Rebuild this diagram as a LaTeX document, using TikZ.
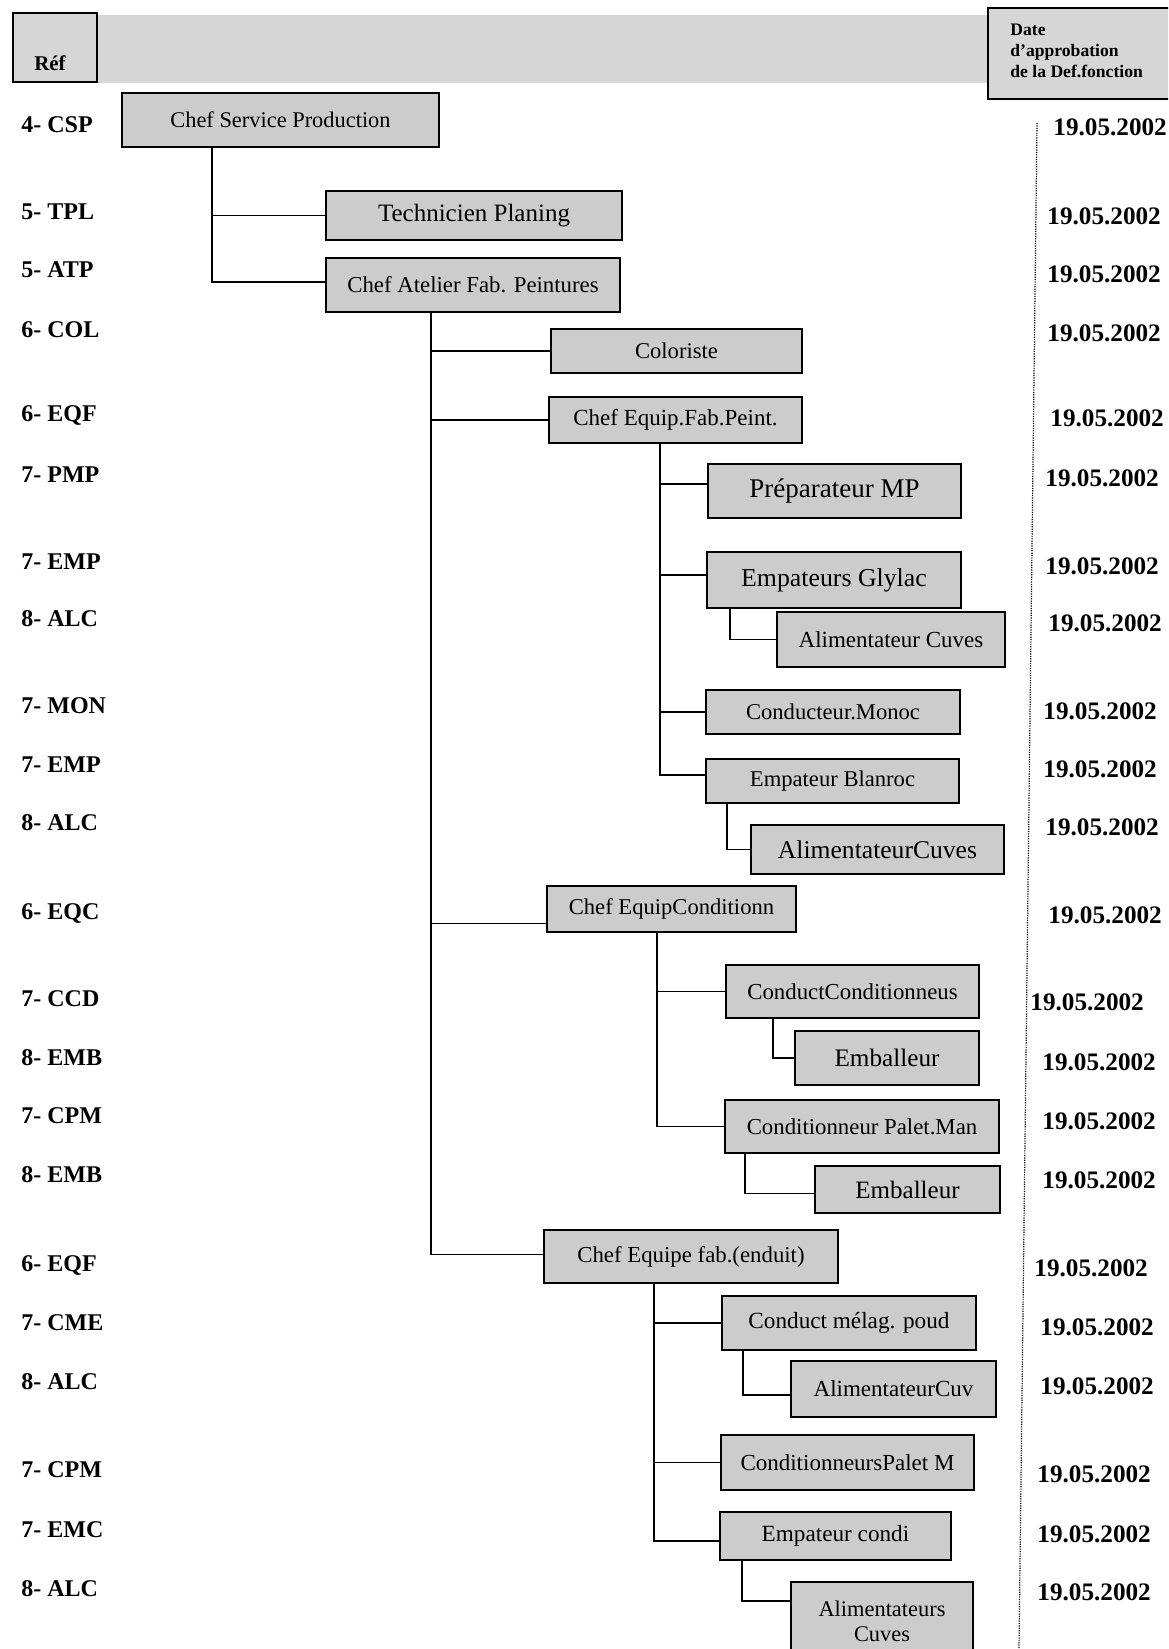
\documentclass[tikz,border=0pt]{standalone}
\usepackage{fontspec}
\setmainfont{Liberation Serif}
\definecolor{boxgray}{gray}{0.80}
\definecolor{hdrgray}{gray}{0.84}
\newcommand\orgbox[7]{\node[obx, minimum width={(#4-#2)*0.5pt}, minimum height={(#5-#3)*0.5pt}, font=\fontsize{#6pt}{#6pt}\selectfont] (#1) at ({(#2+#4)/2},{(#3+#5)/2}) {#7};}
\begin{document}
\begin{tikzpicture}[x=0.5pt,y=-0.5pt,
  obx/.style={draw=black, fill=boxgray, line width=0.9pt, inner sep=0pt, align=center},
  conn/.style={draw=black, line width=0.65pt},
  lbl/.style={anchor=west, font=\fontsize{12pt}{14pt}\selectfont\bfseries, inner sep=0pt},
  dte/.style={anchor=west, font=\fontsize{12.6pt}{15pt}\selectfont\bfseries, inner sep=0pt}]
\useasboundingbox (0,0) rectangle (1168,1649);
\clip (0,0) rectangle (1168,1649);
\fill[white] (0,0) rectangle (1168,1649);

% header
\fill[hdrgray] (13,15) rectangle (1168,83);
\node[obx, fill=hdrgray, minimum width=42pt, minimum height=34.5pt] (ref) at (55,47.5) {};
\node[font=\fontsize{10.5pt}{12pt}\selectfont\bfseries, inner sep=0pt] (reftxt) at (50,63) {Réf};
\node[obx, fill=hdrgray, minimum width=93.5pt, minimum height=45.5pt] (hdate) at (1081.5,53.5) {};
\node[anchor=west, align=left, inner sep=0pt, font=\fontsize{8.8pt}{10.5pt}\selectfont\bfseries] (hdtxt) at (1010,51) {Date\\d'approbation\\de la Def.fonction};

% dotted separator
\coordinate (dtop) at (1037,123);
\coordinate (dbot) at (1019,1649);
\draw[line width=0.6pt, dash pattern=on 0.6pt off 0.6pt] (dtop) -- (dbot);

% boxes
\orgbox{csp}{122}{93}{439}{147}{11.2}{Chef Service Production}
\orgbox{tpl}{326}{191}{622}{240}{12.5}{Technicien Planing}
\orgbox{atp}{326}{258}{620}{312}{11.4}{Chef Atelier Fab. Peintures}
\orgbox{col}{551}{329}{802}{373}{11.3}{Coloriste}
\orgbox{eqf}{549}{397}{802}{443}{11.5}{Chef Equip.Fab.Peint.}
\orgbox{pmp}{708}{464}{961}{518}{13.5}{Préparateur MP}
\orgbox{glyl}{707}{552}{961}{608}{12.9}{Empateurs Glylac}
\orgbox{alca}{777}{612}{1005}{667}{11.5}{Alimentateur Cuves}
\orgbox{mon}{706}{690}{960}{734}{11.3}{Conducteur.Monoc}
\orgbox{blan}{706}{759}{959}{803}{11.3}{Empateur Blanroc}
\orgbox{alcb}{751}{825}{1004}{874}{12.8}{AlimentateurCuves}
\orgbox{eqc}{547}{886}{796}{932}{11.3}{Chef EquipConditionn}
\orgbox{ccd}{726}{965}{979}{1018}{11.4}{ConductConditionneus}
\orgbox{emba}{795}{1031}{979}{1085}{12.6}{Emballeur}
\orgbox{cpm}{725}{1100}{999}{1153}{11.4}{Conditionneur Palet.Man}
\orgbox{embb}{815}{1166}{1000}{1213}{12.5}{Emballeur}
\orgbox{eqfb}{544}{1230}{838}{1283}{11.4}{Chef Equipe fab.(enduit)}
\orgbox{cme}{722}{1296}{976}{1350}{11.6}{Conduct mélag. poud}
\orgbox{alcc}{791}{1361}{996}{1417}{11.5}{AlimentateurCuv}
\orgbox{cpmb}{721}{1435}{974}{1490}{11.5}{ConditionneursPalet M}
\orgbox{emc}{720}{1512}{951}{1560}{11.6}{Empateur condi}
\node[obx, minimum width=91pt, minimum height=39pt, font=\fontsize{11.2pt}{12.6pt}\selectfont] (alcd) at (882,1621) {Alimentateurs\\Cuves};

% connectors
\draw[conn] ([xshift=45.5pt]csp.south west) |- (tpl.west);
\draw[conn] ([xshift=45.5pt]csp.south west) |- ([yshift=1.5pt]atp.west);
\draw[conn] ([xshift=53pt]atp.south west) |- (col.west);
\draw[conn] ([xshift=53pt]atp.south west) |- (eqf.west);
\draw[conn] ([xshift=53pt]atp.south west) |- ([yshift=-7.25pt]eqc.west);
\draw[conn] ([xshift=53pt]atp.south west) |- ([yshift=1pt]eqfb.west);
\draw[conn] ([xshift=56pt]eqf.south west) |- ([yshift=3.5pt]pmp.west);
\draw[conn] ([xshift=56pt]eqf.south west) |- ([yshift=2.5pt]glyl.west);
\draw[conn] ([xshift=56pt]eqf.south west) |- (mon.west);
\draw[conn] ([xshift=56pt]eqf.south west) |- ([yshift=3pt]blan.west);
\draw[conn] ([xshift=12pt]glyl.south west) |- (alca.west);
\draw[conn] ([xshift=11pt]blan.south west) |- (alcb.west);
\draw[conn] ([xshift=55.5pt]eqc.south west) |- (ccd.west);
\draw[conn] ([xshift=55.5pt]eqc.south west) |- (cpm.west);
\draw[conn] ([xshift=24pt]ccd.south west) |- (emba.west);
\draw[conn] ([xshift=10.5pt]cpm.south west) |- ([yshift=-2pt]embb.west);
\draw[conn] ([xshift=55.5pt]eqfb.south west) |- (cme.west);
\draw[conn] ([xshift=55.5pt]eqfb.south west) |- (cpmb.west);
\draw[conn] ([xshift=55.5pt]eqfb.south west) |- ([yshift=-2.5pt]emc.west);
\draw[conn] ([xshift=11pt]cme.south west) |- ([yshift=-3pt]alcc.west);
\draw[conn] ([xshift=11.5pt]emc.south west) |- ([yshift=-10pt]alcd.north west);

% left reference labels
\node[lbl] (r1) at (21,125) {4- CSP};
\node[lbl] (r2) at (21,212) {5- TPL};
\node[lbl] (r3) at (21,270) {5- ATP};
\node[lbl] (r4) at (21,330) {6- COL};
\node[lbl] (r5) at (21,415) {6- EQF};
\node[lbl] (r6) at (21,475) {7- PMP};
\node[lbl] (r7) at (21,562) {7- EMP};
\node[lbl] (r8) at (21,619) {8- ALC};
\node[lbl] (r9) at (21,706) {7- MON};
\node[lbl] (r10) at (21,765) {7- EMP};
\node[lbl] (r11) at (21,823) {8- ALC};
\node[lbl] (r12) at (21,913) {6- EQC};
\node[lbl] (r13) at (21,999) {7- CCD};
\node[lbl] (r14) at (21,1058) {8- EMB};
\node[lbl] (r15) at (21,1116) {7- CPM};
\node[lbl] (r16) at (21,1175) {8- EMB};
\node[lbl] (r17) at (21,1265) {6- EQF};
\node[lbl] (r18) at (21,1323) {7- CME};
\node[lbl] (r19) at (21,1382) {8- ALC};
\node[lbl] (r20) at (21,1470) {7- CPM};
\node[lbl] (r21) at (21,1530) {7- EMC};
\node[lbl] (r22) at (21,1589) {8- ALC};

% dates
\node[dte] (d1) at (1053,127) {19.05.2002};
\node[dte] (d2) at (1047,216) {19.05.2002};
\node[dte] (d3) at (1047,274) {19.05.2002};
\node[dte] (d4) at (1047,333) {19.05.2002};
\node[dte] (d5) at (1050,418) {19.05.2002};
\node[dte] (d6) at (1045,478) {19.05.2002};
\node[dte] (d7) at (1045,566) {19.05.2002};
\node[dte] (d8) at (1048,623) {19.05.2002};
\node[dte] (d9) at (1043,711) {19.05.2002};
\node[dte] (d10) at (1043,769) {19.05.2002};
\node[dte] (d11) at (1045,827) {19.05.2002};
\node[dte] (d12) at (1048,915) {19.05.2002};
\node[dte] (d13) at (1030,1002) {19.05.2002};
\node[dte] (d14) at (1042,1062) {19.05.2002};
\node[dte] (d15) at (1042,1121) {19.05.2002};
\node[dte] (d16) at (1042,1180) {19.05.2002};
\node[dte] (d17) at (1034,1268) {19.05.2002};
\node[dte] (d18) at (1040,1327) {19.05.2002};
\node[dte] (d19) at (1040,1386) {19.05.2002};
\node[dte] (d20) at (1037,1474) {19.05.2002};
\node[dte] (d21) at (1037,1534) {19.05.2002};
\node[dte] (d22) at (1037,1592) {19.05.2002};
\end{tikzpicture}
\end{document}
